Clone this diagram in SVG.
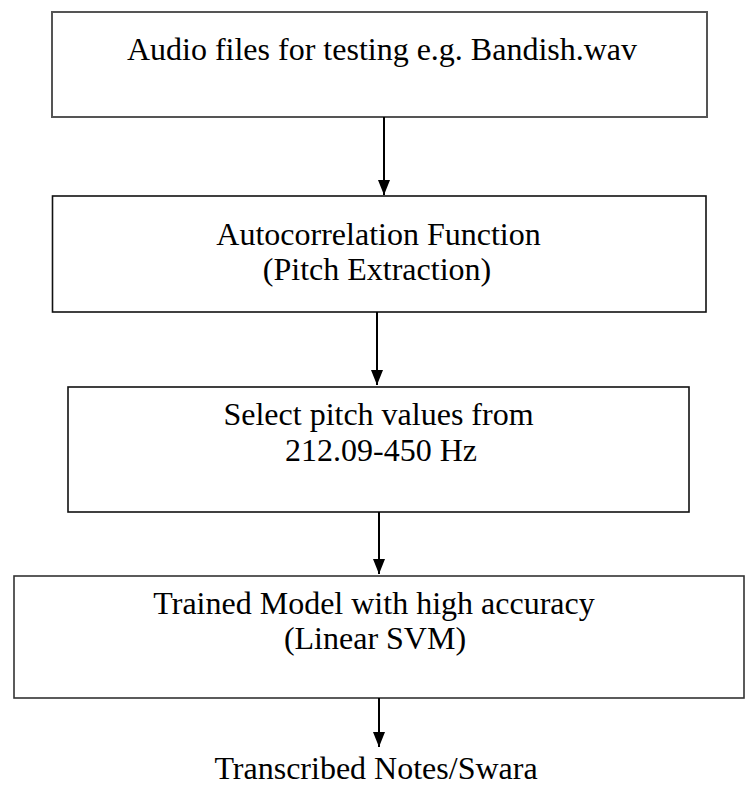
<svg xmlns="http://www.w3.org/2000/svg" width="747" height="788" viewBox="0 0 747 788">
<style>
.box{fill:#fff;stroke:#111;stroke-width:1.6}
.t{font-family:"Liberation Serif","Times New Roman",serif;font-size:32px;fill:#000;text-anchor:middle}
.c{stroke:#000;stroke-width:2;fill:none}
</style>
<defs>
<marker id="ah" markerUnits="userSpaceOnUse" markerWidth="16" markerHeight="14" refX="15" refY="6" orient="auto">
<path d="M0,0 L15,6 L0,12 Z" fill="#000"/>
</marker>
</defs>
<rect width="747" height="788" fill="#fff"/>
<g id="n1">
<rect class="box" x="52" y="12" width="655" height="105" style="stroke:#555;stroke-width:2"/>
<text class="t" x="382" y="60">Audio files for testing e.g. Bandish.wav</text>
</g>
<g id="n2">
<rect class="box" x="52.5" y="196" width="653.5" height="116"/>
<text class="t" x="378.5" y="245">Autocorrelation Function</text>
<text class="t" x="377" y="280">(Pitch Extraction)</text>
</g>
<g id="n3">
<rect class="box" x="68" y="387" width="621" height="125"/>
<text class="t" x="378.5" y="425">Select pitch values from</text>
<text class="t" x="381" y="461">212.09-450 Hz</text>
</g>
<g id="n4">
<rect class="box" x="14" y="576" width="730" height="122" style="stroke:#333"/>
<text class="t" x="374" y="614">Trained Model with high accuracy</text>
<text class="t" x="375" y="649">(Linear SVM)</text>
</g>
<g id="n5">
<text class="t" x="376" y="779">Transcribed Notes/Swara</text>
</g>
<g id="connectors">
<path class="c" d="M384,117 L384,195" marker-end="url(#ah)"/>
<path class="c" d="M377,312 L377,385" marker-end="url(#ah)"/>
<path class="c" d="M379,512 L379,574" marker-end="url(#ah)"/>
<path class="c" d="M379,698 L379,747" marker-end="url(#ah)"/>
</g>
</svg>
